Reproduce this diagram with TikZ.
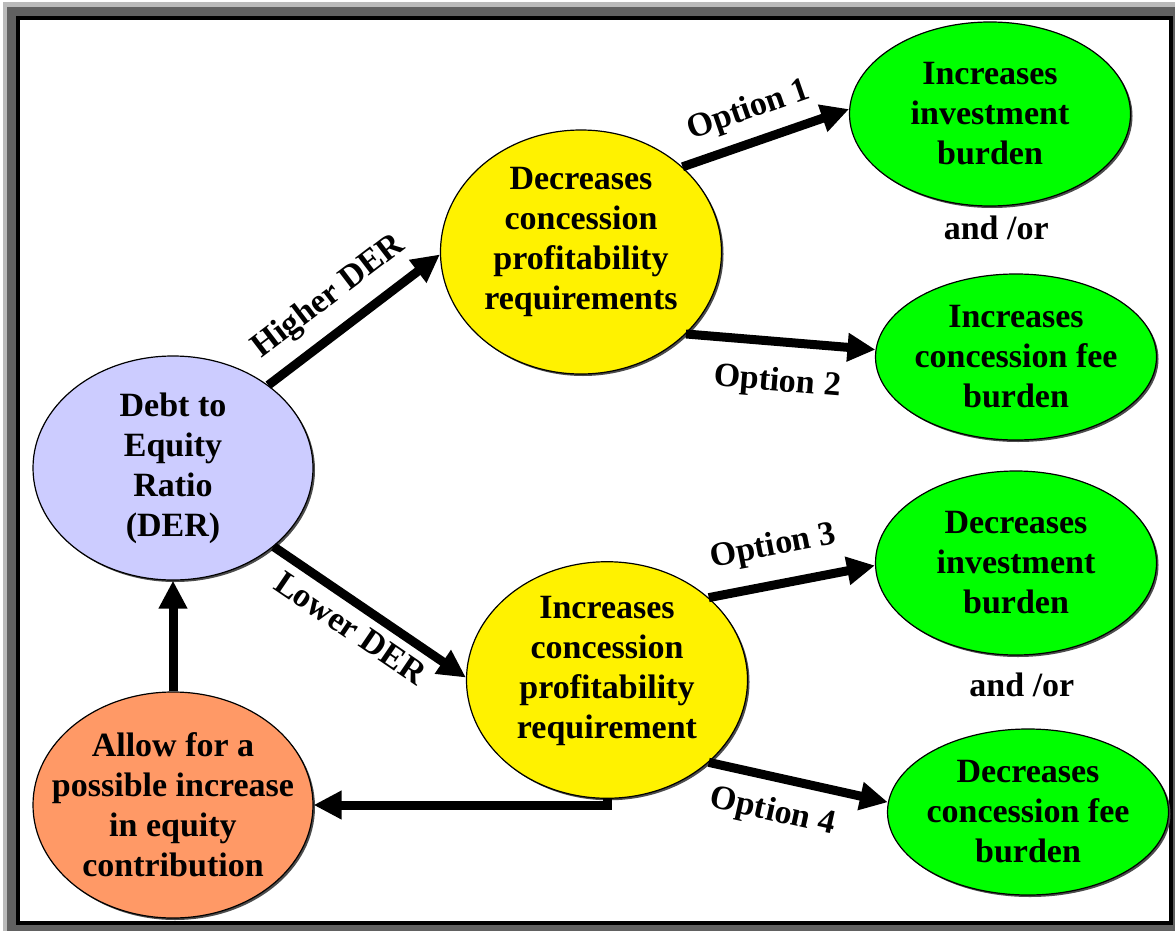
\documentclass[tikz,border=0pt]{standalone}
\usepackage{fontspec}
\setmainfont{Liberation Serif}
\usetikzlibrary{shapes.geometric,arrows.meta,calc,shadows}

\begin{document}
\begin{tikzpicture}[x=1pt,y=-1pt,>={Triangle[length=28pt,width=27pt]},font=\fontsize{34}{40}\selectfont\bfseries]
    \tikzstyle{bubble}=[ellipse,draw=black,line width=1.2pt,align=center,inner xsep=-30pt,inner ysep=0pt,
        drop shadow={opacity=1,fill=black!70,shadow xshift=2pt,shadow yshift=-2pt}]
    \tikzstyle{ratio bubble}=[bubble, fill={rgb,255:red,204;green,204;blue,255}, minimum width=280pt];
    \tikzstyle{effect bubble}=[bubble, fill=yellow, minimum width=281pt];
    \tikzstyle{option bubble}=[bubble, fill=green, minimum width=281pt];
    \tikzstyle{equity bubble}=[bubble, fill={rgb,255:red,255;green,153;blue,102}, minimum width=280pt];
    \tikzstyle{flow}=[->,line width=9pt,draw=black];
    % Frame round the chart
    \useasboundingbox (0,0) rectangle (1175,931);
    \fill[black!27] (3,2) rectangle (1175,931);
    \fill[black!62] (7,7) rectangle (1175,931);
    \fill[black] (16,16) rectangle (1173,925);
    \fill[white] (20,20) rectangle (1169,921);
    % Draw the left side nodes
    \node[ratio bubble, minimum height=224pt] (D) at (173,468) {Debt to\\Equity\\Ratio\\(DER)};
    \node[equity bubble, minimum height=226pt] (E) at (173,805) {Allow for a\\possible increase\\in equity\\contribution};
    % Draw the middle nodes
    \node[effect bubble, minimum height=244pt, text depth=27pt] (H) at (581,252) {Decreases\\concession\\profitability\\requirements};
    \node[effect bubble, minimum height=226pt, text depth=25pt] (L) at (607,680) {Increases\\concession\\profitability\\requirement};
    % Draw the option nodes
    \foreach \name/\x/\y/\h/\txt in {G-1/990/114/184/{Increases\\investment\\burden},
        G-2/1016/357/166/{Increases\\concession fee\\burden},
        G-3/1016/563/184/{Decreases\\investment\\burden},
        G-4/1028/812/166/{Decreases\\concession fee\\burden}}
        \node[option bubble, minimum height=\h pt] (\name) at (\x,\y) {\txt};
    \node[xshift=-6pt] at ($(G-1)!0.47!(G-2)$) {and /or};
    \node at ($(G-3)!0.49!(G-4)$) {and /or};
    % Connect them
    \draw[flow] (D.41) -- node[sloped,above=10pt,pos=0.47] {Higher DER} (H.181);
    \draw[flow] (D.-38) -- node[sloped,below=5pt,pos=0.47] {Lower DER} (L.179);
    \draw[flow] (H.40) -- node[sloped,above=8pt,pos=0.46] {Option 1} (G-1.178);
    \draw[flow] (H.-38) -- node[sloped,below=18pt] {Option 2} (G-2.177);
    \draw[flow] (L.39) -- node[sloped,above=14pt,pos=0.43] {Option 3} (G-3.181);
    \draw[flow] (L.-39) -- node[sloped,below=12pt,pos=0.4] {Option 4} (G-4.176);
    \draw[flow] (L.south) |- (E.east);
    \draw[flow] (E.north) -- (D.south);
\end{tikzpicture}
\end{document}
